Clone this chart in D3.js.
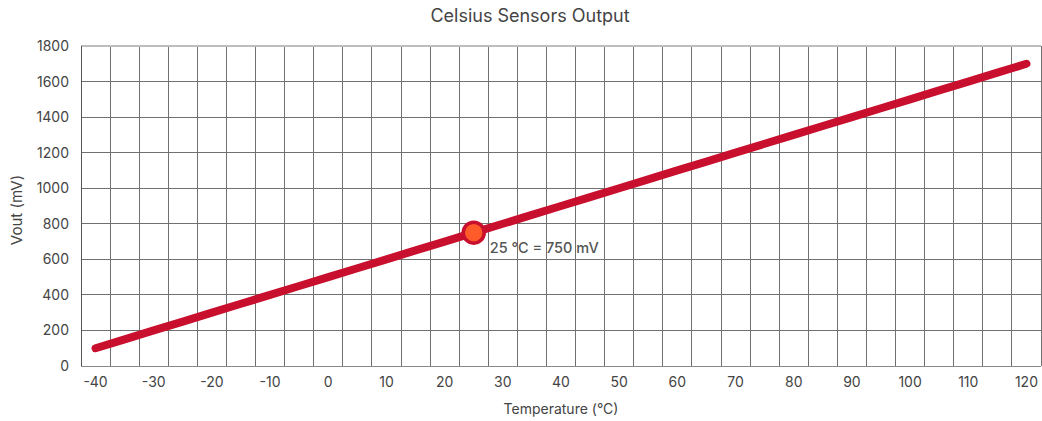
<html>
  <head>
    <meta charset="utf-8"/>
    <style>
      body { margin: 0; background: #fff; }
      text { font-family: Inter, "Noto Sans", sans-serif; }
    </style>
  </head>
  <body>
    <svg></svg>
  </body>
  <script src="https://d3js.org/d3.v7.min.js"></script>
  <script>
  // temperature categories (°C) and sensor output (mV)
  var temps = [-40, -35, -30, -25, -20, -15, -10, -5, 0, 5, 10, 15, 20, 25, 30, 35, 40,
               45, 50, 55, 60, 65, 70, 75, 80, 85, 90, 95, 100, 105, 110, 115, 120];
  var vout = [100, 150, 200, 250, 300, 350, 400, 450, 500, 550, 600, 650, 700, 750, 800, 850, 900,
              950, 1000, 1050, 1100, 1150, 1200, 1250, 1300, 1350, 1400, 1450, 1500, 1550, 1600, 1650, 1700];
  var xLabels = [-40, -30, -20, -10, 0, 10, 20, 30, 40, 50, 60, 70, 80, 90, 100, 110, 120];
  var yTicks = [0, 200, 400, 600, 800, 1000, 1200, 1400, 1600, 1800];
  var marker = {t: 25, v: 750, label: "25 °C = 750 mV"};

  var margin = {top: 46, right: 1, bottom: 55, left: 81};
  var W = 1042, H = 421;
  var width = W - margin.left - margin.right;
  var height = H - margin.top - margin.bottom;

  var svg = d3.select("svg").attr("width", W).attr("height", H);
  var chart = svg.append("g")
    .attr("transform", "translate(" + margin.left + "," + margin.top + ")");

  var x = d3.scaleBand().domain(temps).range([0, width]).padding(0);
  var y = d3.scaleLinear().domain([0, 1800]).range([height, 0]);
  var cx = function(t) { return x(t) + x.bandwidth() / 2; };

  // vertical grid at band boundaries
  chart.append("g").selectAll("line")
    .data(temps.slice(1).concat(["end"]))
    .enter().append("line")
    .attr("x1", function(d) { return d === "end" ? width : x(d); })
    .attr("x2", function(d) { return d === "end" ? width : x(d); })
    .attr("y1", 0).attr("y2", height)
    .attr("stroke", "#707070").attr("stroke-width", 1)
    .attr("shape-rendering", "crispEdges");

  // horizontal grid
  chart.append("g").selectAll("line")
    .data(yTicks)
    .enter().append("line")
    .attr("x1", 0).attr("x2", width)
    .attr("y1", function(d) { return y(d); })
    .attr("y2", function(d) { return y(d); })
    .attr("stroke", function(d) { return d === 1800 ? "#bdbdbd" : (d === 0 ? "#8a8a8a" : "#707070"); })
    .attr("stroke-width", function(d) { return d === 1800 ? 2 : 1; })
    .attr("shape-rendering", "crispEdges");

  // left axis line
  chart.append("line")
    .attr("x1", 0).attr("x2", 0).attr("y1", 0).attr("y2", height)
    .attr("stroke", "#555").attr("shape-rendering", "crispEdges");

  // y axis labels
  var yAxis = chart.append("g")
    .call(d3.axisLeft(y).tickValues(yTicks).tickFormat(d3.format("d")).tickSize(0).tickPadding(12));
  yAxis.select(".domain").remove();
  yAxis.selectAll("text").attr("font-size", 14).attr("fill", "#444");

  // x axis labels
  var xAxis = chart.append("g")
    .attr("transform", "translate(0," + height + ")")
    .call(d3.axisBottom(x).tickValues(xLabels).tickSize(0).tickPadding(11));
  xAxis.select(".domain").remove();
  xAxis.selectAll("text").attr("font-size", 14).attr("fill", "#444");

  // line
  var line = d3.line()
    .x(function(d, i) { return cx(temps[i]); })
    .y(function(d) { return y(d); });
  chart.append("path")
    .datum(vout)
    .attr("d", line)
    .attr("fill", "none")
    .attr("stroke", "#c8102e")
    .attr("stroke-width", 8)
    .attr("stroke-linecap", "round");

  // highlighted point
  chart.append("circle")
    .attr("cx", cx(marker.t)).attr("cy", y(marker.v)).attr("r", 10.5)
    .attr("fill", "#ff5a2a").attr("stroke", "#c8102e").attr("stroke-width", 3.5);
  chart.append("text")
    .attr("x", cx(marker.t) + 16).attr("y", y(marker.v) + 20)
    .attr("font-size", 14.5).attr("font-weight", 500).attr("fill", "#555")
    .text(marker.label);

  // titles
  svg.append("text")
    .attr("x", 530).attr("y", 22).attr("text-anchor", "middle")
    .attr("font-size", 18).attr("fill", "#444")
    .text("Celsius Sensors Output");
  svg.append("text")
    .attr("x", margin.left + width / 2).attr("y", 414).attr("text-anchor", "middle")
    .attr("font-size", 14).attr("fill", "#444")
    .text("Temperature (°C)");
  svg.append("text")
    .attr("transform", "translate(22,210) rotate(-90)")
    .attr("text-anchor", "middle")
    .attr("font-size", 15).attr("fill", "#444")
    .text("Vout (mV)");
  </script>
</html>
